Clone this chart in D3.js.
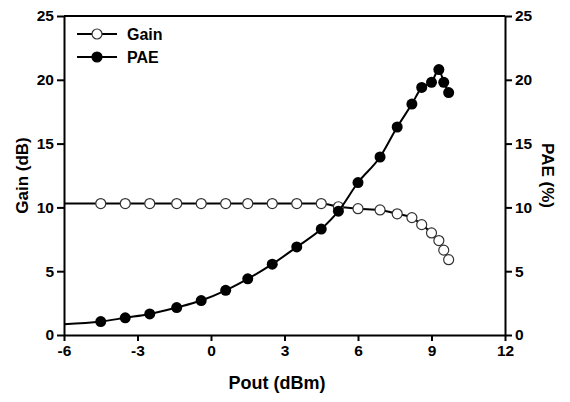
<!DOCTYPE html>
<html>
<head>
<meta charset="utf-8">
<script src="https://cdn.jsdelivr.net/npm/d3@7"></script>
<style>
  body { margin: 0; background: #fff; }
  svg text { font-family: "Liberation Sans", Arial, sans-serif; font-weight: bold; fill: #000; }
</style>
</head>
<body>
<svg id="chart" width="570" height="402"></svg>
<script>
//Measured points, Pout in dBm
var pout = [-4.5, -3.5, -2.5, -1.4, -0.4, 0.6, 1.5, 2.5, 3.5, 4.5, 5.2, 6.0, 6.9, 7.6, 8.2, 8.6, 9.0, 9.3, 9.5, 9.7];
var gain = [10.3, 10.3, 10.3, 10.3, 10.3, 10.3, 10.3, 10.3, 10.3, 10.3, 10.05, 9.9, 9.8, 9.5, 9.2, 8.65, 8.0, 7.4, 6.65, 5.9];
var pae = [1.05, 1.35, 1.65, 2.15, 2.7, 3.5, 4.4, 5.55, 6.9, 8.3, 9.7, 11.95, 13.95, 16.3, 18.1, 19.4, 19.8, 20.8, 19.8, 19.0];
//Where the drawn lines start on the left axis (no marker there)
var lineStartX = -6;
var gainStart = 10.3;
var paeStart = 0.85;

var xTicks = [-6, -3, 0, 3, 6, 9, 12];
var yTicks = [0, 5, 10, 15, 20, 25];

var svg = d3.select("#chart");
var plotLeft = 64, plotRight = 505, plotTop = 16, plotBottom = 335;

var x = d3.scaleLinear().domain([-6, 12]).range([plotLeft, plotRight]);
var yGain = d3.scaleLinear().domain([0, 25]).range([plotBottom, plotTop]);
var yPae = d3.scaleLinear().domain([0, 25]).range([plotBottom, plotTop]);

//plain hyphen for negatives, like the original
function fmt(d){ return String(d); }

//Axes
var xAxis = svg.append("g").attr("transform", "translate(0," + plotBottom + ")")
    .call(d3.axisBottom(x).tickValues(xTicks).tickFormat(fmt).tickSize(6).tickPadding(4).tickSizeOuter(0));
var yLeft = svg.append("g").attr("transform", "translate(" + plotLeft + ",0)")
    .call(d3.axisLeft(yGain).tickValues(yTicks).tickFormat(fmt).tickSize(7).tickPadding(3).tickSizeOuter(0));
var yRight = svg.append("g").attr("transform", "translate(" + plotRight + ",0)")
    .call(d3.axisRight(yPae).tickValues(yTicks).tickFormat(fmt).tickSize(7).tickPadding(3).tickSizeOuter(0));

//Top frame line
svg.append("line")
    .attr("x1", plotLeft).attr("x2", plotRight)
    .attr("y1", plotTop).attr("y2", plotTop)
    .attr("stroke", "#000").attr("stroke-width", 2);

[xAxis, yLeft, yRight].forEach(function(a){
    a.attr("font-size", null).attr("font-family", null);
    a.selectAll("path").attr("stroke", "#000").attr("stroke-width", 2);
    a.selectAll("line").attr("stroke", "#000").attr("stroke-width", 2);
    a.selectAll("text").style("font-size", "15.5px");
});

//Axis titles
svg.append("text")
    .attr("x", 277).attr("y", 389)
    .attr("text-anchor", "middle").style("font-size", "18px")
    .text("Pout (dBm)");
svg.append("text")
    .attr("transform", "translate(28," + ((plotTop + plotBottom) / 2) + ") rotate(-90)")
    .attr("text-anchor", "middle").style("font-size", "17px")
    .text("Gain (dB)");
svg.append("text")
    .attr("transform", "translate(542," + ((plotTop + plotBottom) / 2) + ") rotate(90)")
    .attr("text-anchor", "middle").style("font-size", "17px")
    .text("PAE (%)");

//Build line data with the starting point on the axis
function lineData(start, values){
    var pts = [[lineStartX, start]];
    pout.forEach(function(p, i){ pts.push([p, values[i]]); });
    return pts;
}

var gainLine = d3.line().x(function(d){return x(d[0]);}).y(function(d){return yGain(d[1]);}).curve(d3.curveMonotoneX);
var paeLine = d3.line().x(function(d){return x(d[0]);}).y(function(d){return yPae(d[1]);}).curve(d3.curveMonotoneX);

svg.append("path").datum(lineData(gainStart, gain))
    .attr("d", gainLine).attr("fill", "none").attr("stroke", "#000").attr("stroke-width", 2);
svg.selectAll(".gainPt").data(pout).enter().append("circle")
    .attr("class", "gainPt")
    .attr("cx", function(d){return x(d);})
    .attr("cy", function(d, i){return yGain(gain[i]);})
    .attr("r", 5).attr("fill", "#fff").attr("stroke", "#333").attr("stroke-width", 1.2);

svg.append("path").datum(lineData(paeStart, pae))
    .attr("d", paeLine).attr("fill", "none").attr("stroke", "#000").attr("stroke-width", 2);
svg.selectAll(".paePt").data(pout).enter().append("circle")
    .attr("class", "paePt")
    .attr("cx", function(d){return x(d);})
    .attr("cy", function(d, i){return yPae(pae[i]);})
    .attr("r", 5.5).attr("fill", "#000");

//Legend
var legend = svg.append("g");
var legendItems = [{name: "Gain", fill: "#fff", y: 34}, {name: "PAE", fill: "#000", y: 57}];
legendItems.forEach(function(item){
    legend.append("line").attr("x1", 77).attr("x2", 117).attr("y1", item.y).attr("y2", item.y)
        .attr("stroke", "#000").attr("stroke-width", 2);
    legend.append("circle").attr("cx", 97).attr("cy", item.y).attr("r", 5)
        .attr("fill", item.fill).attr("stroke", item.fill == "#fff" ? "#333" : "#000").attr("stroke-width", 1.2);
    legend.append("text").attr("x", 127).attr("y", item.y + 6).style("font-size", "16px").text(item.name);
});
</script>
</body>
</html>
